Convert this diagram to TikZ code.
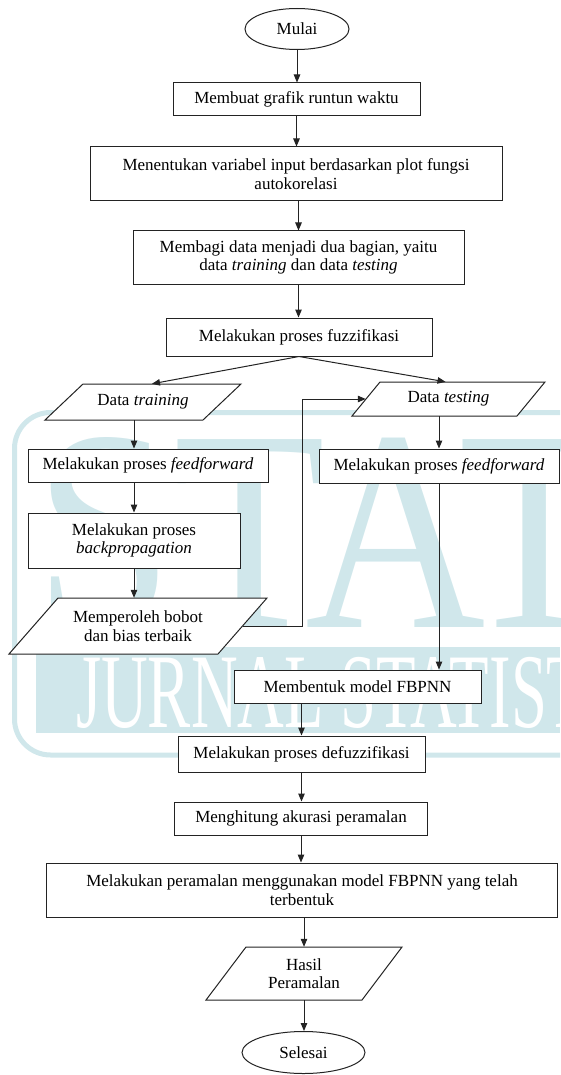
\documentclass[tikz,border=0pt]{standalone}
\usepackage{fontspec}
\setmainfont{Liberation Serif}
\usetikzlibrary{shapes.geometric,arrows.meta,calc}
\definecolor{wm}{RGB}{208,231,235}
\definecolor{ln}{RGB}{35,35,35}
\newcommand{\paranode}[7]{%
  \draw[pshape] ({#2-#4/2+#6},{#3-#5/2}) -- ({#2+#4/2},{#3-#5/2}) -- ({#2+#4/2-#6},{#3+#5/2}) -- ({#2-#4/2},{#3+#5/2}) -- cycle;
  \node[ptext, minimum width=#4pt, minimum height=#5pt] (#1) at (#2,#3) {#7};}
\begin{document}
\begin{tikzpicture}[x=1pt,y=-1pt,
  txt/.style={font=\fontsize{17}{18.5}\selectfont, align=center, inner sep=0pt},
  box/.style={txt, rectangle, draw=ln, line width=1pt, fill=white},
  oval/.style={txt, ellipse, draw=ln, line width=1pt, fill=white},
  ptext/.style={txt},
  pshape/.style={draw=ln, line width=1pt, fill=white},
  arr/.style={draw=ln, line width=1pt, -{Triangle[length=8pt,width=6.5pt]}}]
\useasboundingbox (0,0) rectangle (560,1075);
% watermark
\begin{scope}
\clip (0,0) rectangle (560,1075);
\draw[wm, line width=5pt, rounded corners=36pt] (14.5,412.5) rectangle (640,755);
\node[text=wm, font=\fontsize{287}{287}\selectfont, xscale=0.87, anchor=base west, inner sep=0pt] at (34,627) {STAT};
\fill[wm] (36,647) rectangle (560,733);
\node[text=white, font=\fontsize{106}{106}\selectfont, xscale=0.61, anchor=base west, inner sep=0pt] at (76,727) {JURNAL STATISTIKA};
\end{scope}
% nodes
\node[oval, minimum width=104pt, minimum height=41pt] (mulai) at (297,29) {Mulai};
\node[box, minimum width=247pt, minimum height=33pt] (b1) at (296.5,99.5) {Membuat grafik runtun waktu};
\node[box, minimum width=412pt, minimum height=54pt] (b2) at (296,174) {Menentukan variabel input berdasarkan plot fungsi\\autokorelasi};
\node[box, minimum width=331pt, minimum height=53pt] (b3) at (298.5,257.5) {Membagi data menjadi dua bagian, yaitu\\data \textit{training} dan data \textit{testing}};
\node[box, minimum width=266pt, minimum height=38pt] (b4) at (299,337) {Melakukan proses fuzzifikasi};
\paranode{dtrain}{143}{402}{196}{36}{38}{Data \textit{training}}
\paranode{dtest}{448.5}{399}{193}{34}{28}{Data \textit{testing}}
\node[box, minimum width=240pt, minimum height=33pt] (ffL) at (148,465.5) {Melakukan proses \textit{feedforward}};
\node[box, minimum width=212pt, minimum height=55pt] (bp) at (134,540.5) {Melakukan proses\\\textit{backpropagation}};
\paranode{bobot}{138}{626}{258}{56}{49}{Memperoleh bobot\\dan bias terbaik}
\node[box, minimum width=240pt, minimum height=34pt] (ffR) at (439,466) {Melakukan proses \textit{feedforward}};
\node[box, minimum width=247pt, minimum height=33pt] (fbpnn) at (357.5,686.5) {Membentuk model FBPNN};
\node[box, minimum width=247pt, minimum height=36pt] (defuzz) at (301.5,754) {Melakukan proses defuzzifikasi};
\node[box, minimum width=253pt, minimum height=33pt] (akurasi) at (301,818.5) {Menghitung akurasi peramalan};
\node[box, minimum width=511pt, minimum height=54pt] (peram) at (302,890) {Melakukan peramalan menggunakan model FBPNN yang telah\\terbentuk};
\paranode{hasil}{304}{973.5}{196}{53}{40}{Hasil\\Peramalan}
\node[oval, minimum width=123pt, minimum height=42pt] (selesai) at (303.5,1052.5) {Selesai};
% connectors
\draw[arr] (mulai.south) -- (mulai.south |- b1.north);
\draw[arr] (b1.south) -- (b1.south |- b2.north);
\draw[arr] (b2.south -| b3.north) -- (b3.north);
\draw[arr] (b3.south) -- (b3.south |- b4.north);
\draw[arr] (b4.south) -- ($(dtrain.north)+(9,0)$);
\draw[arr] (b4.south) -- ($(dtest.north)+(-3,0)$);
\draw[arr] (dtrain.south -| bp.south) -- (ffL.north -| bp.south);
\draw[arr] (ffL.south -| bp.north) -- (bp.north);
\draw[arr] (bp.south) -- (bobot.north -| bp.south);
\draw[arr] ($(bobot.east)+(-24.5,0)$) -| ($(dtest.west)+(-49,0)$) -- ($(dtest.west)+(14,0)$);
\draw[arr] (dtest.south -| ffR.north) -- (ffR.north);
\draw[arr] (ffR.south) -- (ffR.south |- fbpnn.north);
\draw[arr] (fbpnn.south -| defuzz.north) -- (defuzz.north);
\draw[arr] (defuzz.south) -- (defuzz.south |- akurasi.north);
\draw[arr] (akurasi.south) -- (akurasi.south |- peram.north);
\draw[arr] (peram.south -| hasil.north) -- (hasil.north);
\draw[arr] (hasil.south) -- (hasil.south |- selesai.north);
\end{tikzpicture}
\end{document}
